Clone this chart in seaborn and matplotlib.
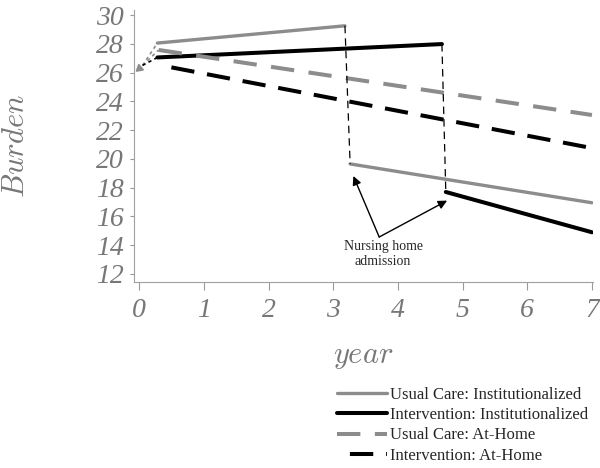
import pandas as pd
import seaborn as sns
import matplotlib.pyplot as plt

# values
baseline_year = [0.0]
baseline_burden = [26.3]

uc_inst_pre_year = [0.28, 3.18]
uc_inst_pre_burden = [28.05, 29.25]
uc_inst_post_year = [3.26, 7.0]
uc_inst_post_burden = [19.65, 16.95]

int_inst_pre_year = [0.28, 4.68]
int_inst_pre_burden = [27.05, 27.98]
int_inst_post_year = [4.74, 7.0]
int_inst_post_burden = [17.7, 14.9]

uc_home_year = [0.3, 7.0]
uc_home_burden = [27.57, 23.05]
int_home_year = [0.3, 7.0]
int_home_burden = [26.53, 20.75]

series_names = [
    "Usual Care: Institutionalized",
    "Intervention: Institutionalized",
    "Usual Care: At-Home",
    "Intervention: At-Home",
]
yticks = list(range(12, 31, 2))
xticks = list(range(0, 8))

annot_text = "Nursing home\nadmission"
annot_tail = (3.71, 14.57)
annot_heads = [(3.31, 18.81), (4.76, 17.1)]
annot_pos = (3.77, 13.4)

rows = []


def addRows(name, part, xs, ys):
    for x, y in zip(xs, ys):
        rows.append([name, part, x, y])


addRows(series_names[0], 0, uc_inst_pre_year, uc_inst_pre_burden)
addRows(series_names[0], 1, uc_inst_post_year, uc_inst_post_burden)
addRows(series_names[1], 0, int_inst_pre_year, int_inst_pre_burden)
addRows(series_names[1], 1, int_inst_post_year, int_inst_post_burden)
addRows(series_names[2], 0, uc_home_year, uc_home_burden)
addRows(series_names[3], 0, int_home_year, int_home_burden)
df = pd.DataFrame(rows, columns=["series", "part", "year", "burden"])

sns.set_style("white")
plt.rcParams["mathtext.fontset"] = "cm"

gray = "#8c8c8c"
tick_gray = "#777777"
styles = {
    series_names[0]: dict(color=gray, linewidth=2.4, linestyle="-"),
    series_names[1]: dict(color="black", linewidth=2.9, linestyle="-"),
    series_names[2]: dict(color=gray, linewidth=2.9, linestyle=(0, (5.8, 3.6))),
    series_names[3]: dict(color="black", linewidth=2.9, linestyle=(5.8, (5.8, 3.2))),
}

fig = plt.figure(figsize=(6, 4.68), dpi=100)
ax = fig.add_axes([0.2225, 0.3964, 0.7658, 0.5823])

for (name, part), sub in df.groupby(["series", "part"], sort=False):
    sns.lineplot(
        data=sub,
        x="year",
        y="burden",
        ax=ax,
        sort=False,
        estimator=None,
        legend=False,
        label=name if part == 0 else "_nolegend_",
        **styles[name],
    )

# dotted drops at nursing home admission
for name in series_names[:2]:
    a = df[(df.series == name) & (df.part == 0)].iloc[-1]
    b = df[(df.series == name) & (df.part == 1)].iloc[0]
    ax.plot([a.year, b.year], [a.burden, b.burden], color="black",
            linewidth=0.9, linestyle=(0, (6, 4)))

# dotted connectors from baseline
for name, col in [(series_names[0], gray), (series_names[2], gray), (series_names[1], "black")]:
    first = df[(df.series == name) & (df.part == 0)].iloc[0]
    ax.plot([baseline_year[0] + 0.05, first.year], [baseline_burden[0] + 0.2, first.burden],
            color=col, linewidth=1.2, linestyle=(0, (2, 2)))
ax.plot(baseline_year, baseline_burden, marker=(3, 0, 130), markersize=6,
        color=gray, linestyle="none")

# annotation arrows
for head in annot_heads:
    ax.annotate("", xy=head, xytext=annot_tail,
                arrowprops=dict(arrowstyle="-|>", color="black", lw=1.0,
                                mutation_scale=13, shrinkA=0, shrinkB=0))
ax.text(annot_pos[0], annot_pos[1], annot_text, ha="center", va="center",
        family="Liberation Serif", fontsize=10, linespacing=1.15)

ax.set_xlim(-0.09, 7.016)
ax.set_ylim(11.41, 30.35)
ax.set_xticks(xticks)
ax.set_yticks(yticks)
ax.set_xticklabels([str(v) for v in xticks], family="Liberation Serif",
                   style="italic", fontsize=20, color=tick_gray)
ax.set_yticklabels([str(v) for v in yticks], family="Liberation Serif",
                   style="italic", fontsize=20, color=tick_gray)
ax.tick_params(axis="y", direction="out", length=3, width=0.8, color="#999999", pad=4, left=True)
ax.tick_params(axis="x", direction="out", length=6, width=0.8, color="#999999", pad=5, bottom=True)

sns.despine(ax=ax)
for side in ["left", "bottom"]:
    ax.spines[side].set_color("#a0a0a0")
    ax.spines[side].set_linewidth(0.8)

ax.set_xlabel("$year$", fontsize=22, color=tick_gray)
ax.set_ylabel("$Burden$", fontsize=22, color=tick_gray)
ax.xaxis.set_label_coords(0.5, -0.22)
ax.yaxis.set_label_coords(-0.225, 0.5)

ax.legend(
    loc="upper left",
    bbox_to_anchor=(337 / 600, 1 - 387 / 468),
    bbox_transform=fig.transFigure,
    frameon=False,
    borderpad=0,
    borderaxespad=0,
    handlelength=3.0,
    handletextpad=0.2,
    labelspacing=0.25,
    prop={"family": "Liberation Serif", "size": 12},
)

plt.savefig("out.png", dpi=100)
plt.close()
